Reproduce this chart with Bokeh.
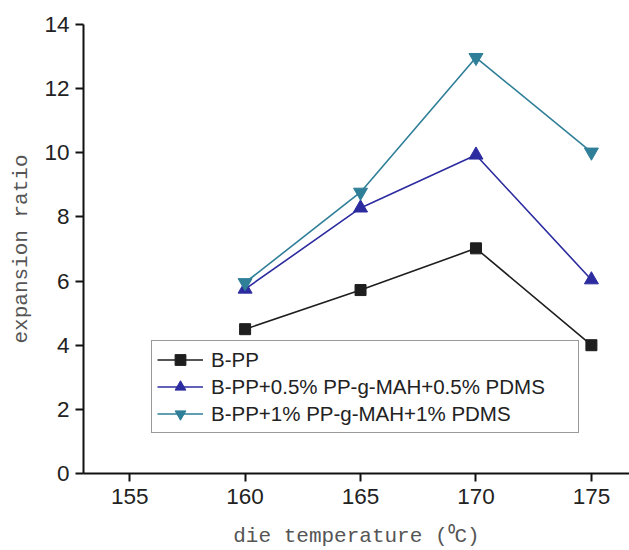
from bokeh.plotting import figure
from bokeh.models import Range1d, Legend, LegendItem
from bokeh.embed import file_html
from bokeh.resources import INLINE

temps = [160, 165, 170, 175]
bpp = [4.5, 5.72, 7.02, 4.0]
bpp_half = [5.75, 8.28, 9.93, 6.04]
bpp_one = [5.95, 8.77, 12.97, 10.02]
labels = ["B-PP", "B-PP+0.5% PP-g-MAH+0.5% PDMS", "B-PP+1% PP-g-MAH+1% PDMS"]
x_ticks = [155, 160, 165, 170, 175]
y_ticks = [0, 2, 4, 6, 8, 10, 12, 14]

p = figure(width=629, height=550, output_backend="svg", toolbar_location=None,
           x_range=Range1d(153.0, 176.65), y_range=Range1d(0, 14),
           min_border_left=83, min_border_right=0, min_border_top=24, min_border_bottom=77)
p.outline_line_color = None
p.grid.visible = False
p.background_fill_color = "white"
p.border_fill_color = "white"

cols = ["#1e1e1e", "#2c2ca0", "#2f7f98"]
markers = ["square", "triangle", "inverted_triangle"]
sizes = [11, 14, 14]
items = []
for ys, c, m, s, lab in zip([bpp, bpp_half, bpp_one], cols, markers, sizes, labels):
    l = p.line(temps, ys, line_color=c, line_width=1.6)
    sc = p.scatter(temps, ys, marker=m, size=s, fill_color=c, line_color=c)
    items.append(LegendItem(label=lab, renderers=[l, sc]))

legend = Legend(items=items, location=(68, 40), padding=5, margin=0,
                glyph_width=46, glyph_height=27, label_standoff=8,
                label_height=22, spacing=0, label_width=362,
                label_text_font="Liberation Sans", label_text_font_size="20.5px",
                label_text_color="#222222",
                border_line_color="#333333", border_line_width=1,
                background_fill_color="white", background_fill_alpha=1)
p.add_layout(legend, "center")

for ax in (p.xaxis[0], p.yaxis[0]):
    ax.axis_line_width = 2
    ax.axis_line_color = "#111111"
    ax.major_tick_line_width = 2
    ax.minor_tick_line_width = 2
    ax.major_tick_line_color = "#111111"
    ax.minor_tick_line_color = "#111111"
    ax.major_tick_in = 0
    ax.major_tick_out = 8
    ax.minor_tick_in = 0
    ax.minor_tick_out = 5
    ax.major_label_text_font = "Liberation Sans"
    ax.major_label_text_font_size = "22.5px"
    ax.major_label_text_color = "#222222"
    ax.axis_label_text_font = "Liberation Mono"
    ax.axis_label_text_font_size = "21px"
    ax.axis_label_text_font_style = "normal"
    ax.axis_label_text_color = "#555555"

p.xaxis.ticker = x_ticks
p.yaxis.ticker = y_ticks
p.xaxis[0].ticker.num_minor_ticks = 2
p.yaxis[0].ticker.num_minor_ticks = 2
p.xaxis.major_label_standoff = 7
p.yaxis.major_label_standoff = 6
p.xaxis.axis_label = "die temperature (\u2070C)"
p.yaxis.axis_label = "expansion ratio"
p.xaxis.axis_label_standoff = 18
p.yaxis.axis_label_standoff = 8

open("out.html", "w").write(file_html(p, INLINE))
